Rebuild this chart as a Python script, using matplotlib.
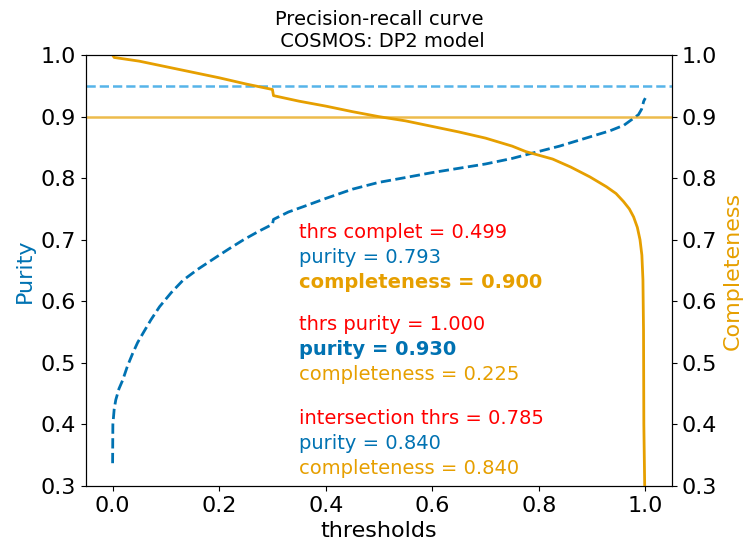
import matplotlib
matplotlib.use("Agg")
import matplotlib.pyplot as plt

# purity vs threshold
thr_pur = [0.0, 0.0005, 0.003, 0.006, 0.012, 0.019, 0.028, 0.038, 0.047, 0.057,
           0.072, 0.088, 0.11, 0.132, 0.16, 0.195, 0.22, 0.246, 0.275, 0.300,
           0.302, 0.33, 0.359, 0.40, 0.45, 0.499, 0.55, 0.60, 0.65, 0.70,
           0.75, 0.785, 0.839, 0.877, 0.934, 0.96, 0.987, 0.993, 0.997, 1.0]
purity = [0.337, 0.40, 0.425, 0.44, 0.458, 0.472, 0.495, 0.516, 0.533, 0.548,
          0.57, 0.591, 0.614, 0.634, 0.652, 0.672, 0.686, 0.70, 0.714, 0.725,
          0.733, 0.745, 0.754, 0.767, 0.782, 0.793, 0.801, 0.809, 0.816, 0.823,
          0.832, 0.840, 0.852, 0.862, 0.877, 0.886, 0.903, 0.912, 0.925, 0.930]

# completeness vs threshold
thr_comp = [0.0, 0.003, 0.05, 0.10, 0.15, 0.20, 0.25, 0.30, 0.302, 0.35,
            0.40, 0.45, 0.499, 0.55, 0.60, 0.65, 0.70, 0.75, 0.776, 0.826,
            0.86, 0.896, 0.927, 0.945, 0.959, 0.970, 0.978, 0.985, 0.990, 0.9935,
            0.9955, 0.9966, 0.9972, 1.0]
completeness = [1.0, 0.996, 0.99, 0.981, 0.972, 0.963, 0.953, 0.944, 0.934, 0.925,
                0.917, 0.908, 0.900, 0.893, 0.884, 0.875, 0.865, 0.852, 0.843, 0.831,
                0.818, 0.802, 0.786, 0.775, 0.762, 0.750, 0.737, 0.72, 0.70, 0.675,
                0.635, 0.553, 0.40, 0.225]

purity_goal = 0.95
completeness_goal = 0.90

# (threshold, purity, completeness) at the three working points
thrs_complet, pur_at_complet, comp_at_complet = 0.499, 0.793, 0.900
thrs_purity, pur_at_purity, comp_at_purity = 1.000, 0.930, 0.225
thrs_inter, pur_at_inter, comp_at_inter = 0.785, 0.840, 0.840

c_pur = '#0072B2'
c_comp = '#E69F00'

fig = plt.figure(figsize=(7.43, 5.5), dpi=100)
ax = fig.add_axes([0.1157, 0.1164, 0.7887, 0.7836])
ax2 = ax.twinx()

ax.plot(thr_pur, purity, color=c_pur, ls='--', lw=2)
ax.axhline(purity_goal, color='#56B4E9', ls='--', lw=1.8)
ax2.plot(thr_comp, completeness, color=c_comp, lw=2)
ax2.axhline(completeness_goal, color=c_comp, alpha=0.7, lw=1.8)

for a in (ax, ax2):
    a.set_ylim(0.3, 1.0)
    a.tick_params(labelsize=16)

ax.set_xlabel('thresholds', fontsize=16)
ax.set_ylabel('Purity', color=c_pur, fontsize=16)
ax2.set_ylabel('Completeness', color=c_comp, fontsize=16)
ax.set_title('Precision-recall curve\n COSMOS: DP2 model', fontsize=14)

blocks = [
    [('thrs complet = %.3f' % thrs_complet, 'red', 'normal'),
     ('purity = %.3f' % pur_at_complet, c_pur, 'normal'),
     ('completeness = %.3f' % comp_at_complet, c_comp, 'bold')],
    [('thrs purity = %.3f' % thrs_purity, 'red', 'normal'),
     ('purity = %.3f' % pur_at_purity, c_pur, 'bold'),
     ('completeness = %.3f' % comp_at_purity, c_comp, 'normal')],
    [('intersection thrs = %.3f' % thrs_inter, 'red', 'normal'),
     ('purity = %.3f' % pur_at_inter, c_pur, 'normal'),
     ('completeness = %.3f' % comp_at_inter, c_comp, 'normal')],
]
block_y = [0.7125, 0.5615, 0.4104]
for y0, block in zip(block_y, blocks):
    for i, (txt, col, wt) in enumerate(block):
        ax.text(0.35, y0 - i * 0.0406, txt, color=col, fontsize=14,
                fontweight=wt, va='center')

fig.savefig('out.png', dpi=100)
